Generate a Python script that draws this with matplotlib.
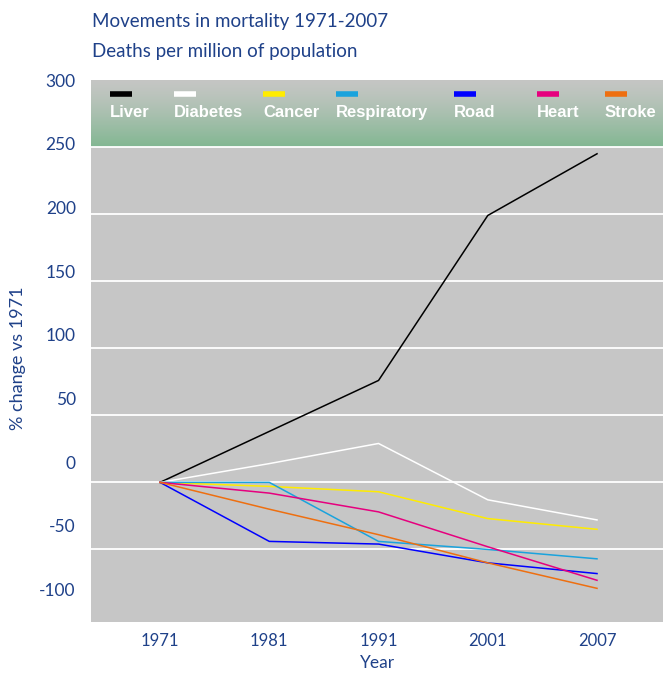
import numpy as np
import matplotlib
matplotlib.use("Agg")
import matplotlib.pyplot as plt

# data (% change vs 1971)
years = ["1971", "1981", "1991", "2001", "2007"]
liver = [0, 38, 76, 199, 245]
diabetes = [0, 14, 29, -13, -28]
cancer = [0, -3, -7, -27, -35]
respiratory = [0, 0, -44, -50, -57]
road = [0, -44, -46, -60, -68]
heart = [0, -8, -22, -48, -73]
stroke = [0, -20, -39, -60, -79]

names = ["Liver", "Diabetes", "Cancer", "Respiratory", "Road", "Heart", "Stroke"]
series = [liver, diabetes, cancer, respiratory, road, heart, stroke]
colours = ["#000000", "#ffffff", "#ffec00", "#1aa3dd", "#0000ff", "#e6007e", "#ee6f10"]

grid_values = [250, 200, 150, 100, 50, 0, -50]
label_values = [300, 250, 200, 150, 100, 50, 0, -50, -100]

navy = "#1f4189"
txt_font = ["Lato", "DejaVu Sans"]
bold_font = ["Liberation Sans", "DejaVu Sans"]

fig = plt.figure(figsize=(6.63, 6.73), dpi=100)
ax = fig.add_axes([91 / 663, 1 - 622 / 673, 572 / 663, 542 / 673])
ax.set_facecolor("#c6c6c6")
x = np.arange(len(years))
ax.set_xlim(-0.632, 4.604)
ax.set_ylim(-104.1, 300)

# gradient band behind the legend
grad = np.linspace(0, 1, 100).reshape(-1, 1)
top = np.array([197, 198, 196]) / 255
bot = np.array([130, 183, 146]) / 255
img = top + (bot - top) * grad[..., None] ** 1.3
ax.imshow(img, extent=[-0.632, 4.604, 250, 300], aspect="auto", zorder=0.5,
          origin="upper")

for g in grid_values:
    ax.axhline(g, color="white", lw=1.3, zorder=1)

for vals, c in zip(series, colours):
    ax.plot(x, vals, color=c, lw=1.1, zorder=3)

# legend drawn by hand along the top band
leg_x = [110, 174, 263, 336, 454, 537, 605]
for px, name, c in zip(leg_x, names, colours):
    fx = (px - 91) / 572
    ax.plot([fx, fx + 22 / 572], [0.975, 0.975], transform=ax.transAxes,
            color=c, lw=4, solid_capstyle="butt", zorder=4, clip_on=False)
    ax.text(fx, 0.94, name, transform=ax.transAxes, color="white",
            fontsize=12, fontweight="bold", family=bold_font,
            ha="left", va="center", zorder=4)

for s in ax.spines.values():
    s.set_visible(False)

ax.set_xticks(x)
ax.set_xticklabels(years, family=txt_font, fontsize=12, color=navy)
ax.tick_params(axis="x", length=0, pad=8)
ax.set_yticks([])

# value labels sit on their own scale on the left
sec = ax.secondary_yaxis("left", functions=(lambda d: (d - 15.15) / 0.9495,
                                            lambda v: v * 0.9495 + 15.15))
sec.set_yticks(label_values)
sec.set_yticklabels([str(v) for v in label_values], family=txt_font,
                    fontsize=12.5, color=navy)
sec.tick_params(length=0, pad=11)
sec.spines["left"].set_visible(False)

ax.set_xlabel("Year", family=txt_font, fontsize=12.5, color=navy, labelpad=4)
fig.text(18 / 663, 1 - 358 / 673, "% change vs 1971", rotation=90,
         family=txt_font, fontsize=13, color=navy, ha="center", va="center")

fig.text(92 / 663, 1 - 22 / 673, "Movements in mortality 1971-2007",
         family=txt_font, fontsize=13.5, color=navy, ha="left", va="center")
fig.text(92 / 663, 1 - 52 / 673, "Deaths per million of population",
         family=txt_font, fontsize=13.5, color=navy, ha="left", va="center")

fig.savefig("out.png", dpi=100)
